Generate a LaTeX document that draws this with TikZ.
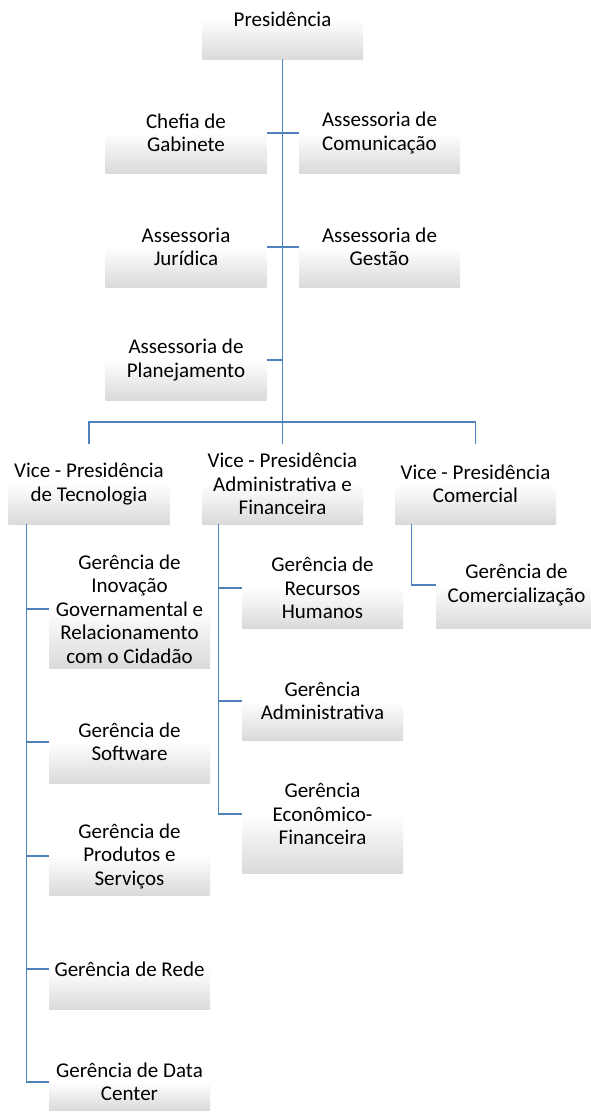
\documentclass[tikz,border=0pt]{standalone}
\usepackage{fontspec}
\setmainfont{Carlito}
\usetikzlibrary{calc}
\definecolor{shB}{HTML}{DADADA}
\definecolor{shM}{HTML}{EDEDED}
\definecolor{shW}{HTML}{FFFFFF}
\definecolor{lineblue}{HTML}{4F81BD}
\pgfdeclareverticalshading{boxshade}{100bp}{color(0bp)=(shB); color(25bp)=(shB); color(38bp)=(shM); color(50bp)=(shW); color(100bp)=(shW)}
\begin{document}
\begin{tikzpicture}[x=1pt,y=-1pt,
  box/.style={shading=boxshade, minimum width=161pt, inner sep=0pt, align=center,
    font=\fontsize{21pt}{23.5pt}\selectfont, text=black},
  conn/.style={draw=lineblue, line width=1.3pt}]
\useasboundingbox (0,0) rectangle (591,1120);
\clip (0,0) rectangle (591,1120);
\fill[white] (0,0) rectangle (591,1120);
% top level
\node[box, minimum height=80pt] (pres) at (282.5,19) {Presidência};
\node[box, minimum height=80pt] (chefia) at (186,133) {Chefia de\\Gabinete};
\node[box, minimum height=80pt] (comun) at (379.5,133) {Assessoria de\\Comunicação};
\node[box, minimum height=80pt] (jur) at (186,247) {Assessoria\\Jurídica};
\node[box, minimum height=80pt] (gest) at (379.5,247) {Assessoria de\\Gestão};
\node[box, minimum height=80pt] (plan) at (186,360) {Assessoria de\\Planejamento};
% vice presidencies
\node[box, minimum height=80pt] (vptec) at (89,484) {Vice - Presidência\\de Tecnologia};
\node[box, minimum height=80pt] (vpadm) at (282.5,484) {Vice - Presidência\\Administrativa e\\Financeira};
\node[box, minimum height=80pt] (vpcom) at (475.5,484) {Vice - Presidência\\Comercial};
% technology
\node[box, minimum height=118pt] (inov) at (129.5,609) {Gerência de\\Inovação\\Governamental e\\Relacionamento\\com o Cidadão};
\node[box, minimum height=82pt] (soft) at (129.5,742) {Gerência de\\Software};
\node[box, minimum height=78pt] (prod) at (129.5,856) {Gerência de\\Produtos e\\Serviços};
\node[box, minimum height=80pt] (rede) at (129.5,969) {Gerência de Rede};
\node[box, minimum height=56pt] (data) at (129.5,1082) {Gerência de Data\\Center};
% administrative
\node[box, minimum height=80pt] (rh) at (322.5,588) {Gerência de\\Recursos\\Humanos};
\node[box, minimum height=78pt] (gadm) at (322.5,701) {Gerência\\Administrativa};
\node[box, minimum height=118pt] (econ) at (322.5,814) {Gerência\\Econômico-\\Financeira};
% commercial
\node[box, minimum height=86pt] (comer) at (516.5,585) {Gerência de\\Comercialização};
% connectors
\coordinate (bus) at (282.5,422);
\coordinate (tecx) at ($(vptec.south west)+(18,0)$);
\coordinate (admx) at ($(vpadm.south west)+(17,0)$);
\coordinate (comx) at ($(vpcom.south west)+(17,0)$);
\draw[conn] (pres.south) -- (bus);
\draw[conn] (chefia.east) -- (comun.west);
\draw[conn] (jur.east) -- (gest.west);
\draw[conn] (plan.east) -- (pres.south |- plan.east);
\draw[conn] (vptec.north) |- (bus) -| (vpcom.north);
\draw[conn] (bus) -- (vpadm.north);
\draw[conn] (tecx) |- (data.west);
\draw[conn] (tecx |- inov.west) -- (inov.west);
\draw[conn] (tecx |- soft.west) -- (soft.west);
\draw[conn] (tecx |- prod.west) -- (prod.west);
\draw[conn] (tecx |- rede.west) -- (rede.west);
\draw[conn] (admx) |- (econ.west);
\draw[conn] (admx |- rh.west) -- (rh.west);
\draw[conn] (admx |- gadm.west) -- (gadm.west);
\draw[conn] (comx) |- (comer.west);
\end{tikzpicture}
\end{document}
